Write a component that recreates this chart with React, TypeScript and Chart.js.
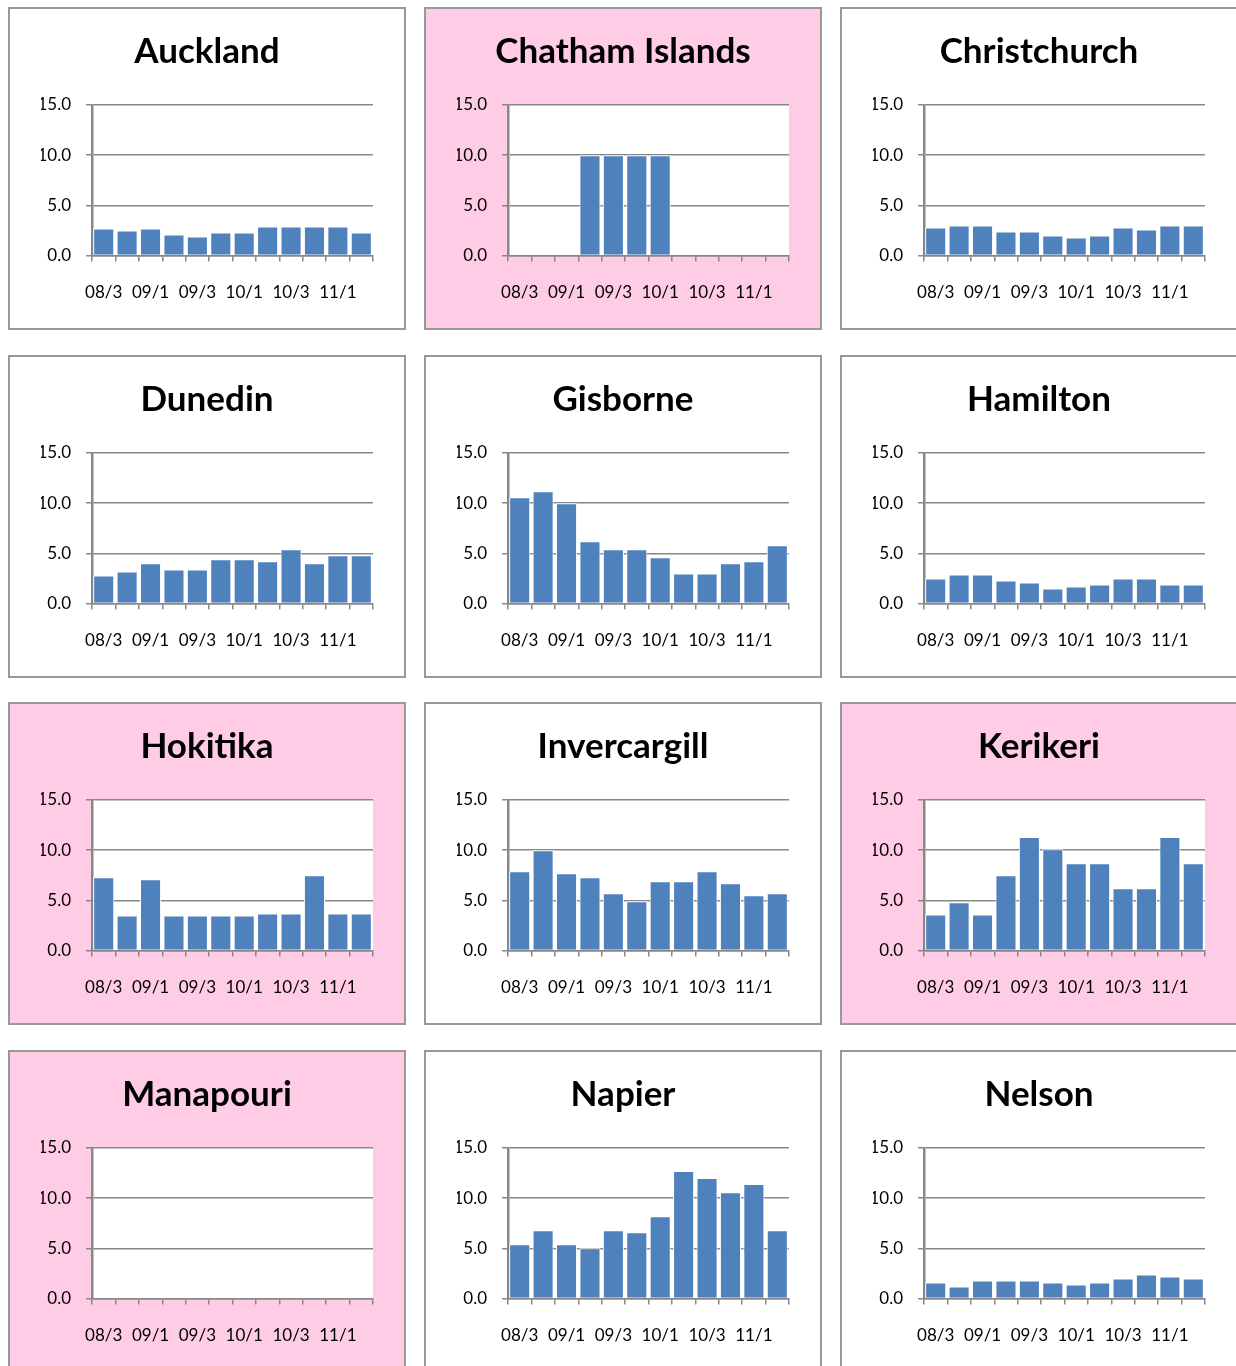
import React, { useEffect, useRef } from "react";
import { Chart, registerables } from "chart.js";

Chart.register(...registerables);

const categories = ["08/3", "08/4", "09/1", "09/2", "09/3", "09/4", "10/1", "10/2", "10/3", "10/4", "11/1", "11/2"];
const yMin = 0;
const yMax = 15;
const yStep = 5;

const auckland = [2.7, 2.5, 2.7, 2.1, 1.9, 2.3, 2.3, 2.9, 2.9, 2.9, 2.9, 2.3];
const chathamIslands = [null, null, null, 10.0, 10.0, 10.0, 10.0, null, null, null, null, null];
const christchurch = [2.8, 3.0, 3.0, 2.4, 2.4, 2.0, 1.8, 2.0, 2.8, 2.6, 3.0, 3.0];
const dunedin = [2.8, 3.2, 4.0, 3.4, 3.4, 4.4, 4.4, 4.2, 5.4, 4.0, 4.8, 4.8];
const gisborne = [10.6, 11.2, 10.0, 6.2, 5.4, 5.4, 4.6, 3.0, 3.0, 4.0, 4.2, 5.8];
const hamilton = [2.5, 2.9, 2.9, 2.3, 2.1, 1.5, 1.7, 1.9, 2.5, 2.5, 1.9, 1.9];
const hokitika = [7.3, 3.5, 7.1, 3.5, 3.5, 3.5, 3.5, 3.7, 3.7, 7.5, 3.7, 3.7];
const invercargill = [7.9, 10.0, 7.7, 7.3, 5.7, 4.9, 6.9, 6.9, 7.9, 6.7, 5.5, 5.7];
const kerikeri = [3.6, 4.8, 3.6, 7.5, 11.3, 10.1, 8.7, 8.7, 6.2, 6.2, 11.3, 8.7];
const manapouri = [null, null, null, null, null, null, null, null, null, null, null, null];
const napier = [5.4, 6.8, 5.4, 5.0, 6.8, 6.6, 8.2, 12.7, 12.0, 10.6, 11.4, 6.8];
const nelson = [1.6, 1.2, 1.8, 1.8, 1.8, 1.6, 1.4, 1.6, 2.0, 2.4, 2.2, 2.0];

const stationNames = ["Auckland", "Chatham Islands", "Christchurch", "Dunedin", "Gisborne", "Hamilton", "Hokitika", "Invercargill", "Kerikeri", "Manapouri", "Napier", "Nelson"];
const stationValues = [auckland, chathamIslands, christchurch, dunedin, gisborne, hamilton, hokitika, invercargill, kerikeri, manapouri, napier, nelson];
const highlighted = [false, true, false, false, false, false, true, false, true, true, false, false];

const COL_LEFT = [8, 424, 840];
const ROW_TOP = [7, 355, 702, 1050];
const PANEL_W = 398;
const PANEL_H = 323;
const BORDER = 2;
const GRID = "#878787";
const BAR = "#4F81BD";
const PINK = "#FFCCE5";
const FONT = "Lato, 'Open Sans', sans-serif";

const whitePlotArea = {
  id: "whitePlotArea",
  beforeDraw(chart: any) {
    const a = chart.chartArea;
    const ctx = chart.ctx;
    ctx.save();
    ctx.fillStyle = "#FFFFFF";
    ctx.fillRect(a.left, a.top, a.right - a.left, a.bottom - a.top);
    ctx.restore();
  },
};

function Panel(props: { title: string; values: (number | null)[]; pink: boolean; left: number; top: number }) {
  const ref = useRef<HTMLCanvasElement>(null);
  useEffect(() => {
    const chart = new Chart(ref.current as HTMLCanvasElement, {
      type: "bar",
      data: {
        labels: categories,
        datasets: [
          {
            data: props.values as any,
            backgroundColor: BAR,
            borderColor: "#FFFFFF",
            borderWidth: 1,
            barPercentage: 0.9,
            categoryPercentage: 1,
          },
        ],
      },
      options: {
        animation: false,
        responsive: false,
        layout: { padding: { left: 31, right: 31, top: 0, bottom: 0 } },
        plugins: {
          legend: { display: false },
          tooltip: { enabled: false },
          title: {
            display: true,
            text: props.title,
            color: "#000000",
            font: { family: FONT, size: 35, weight: "bold" },
            padding: { top: 22, bottom: 32 },
          },
        },
        scales: {
          x: {
            grid: { offset: true, drawOnChartArea: false, color: GRID, lineWidth: 1.5, tickLength: 6 },
            border: { color: GRID, width: 1.5 },
            ticks: {
              autoSkip: false,
              maxRotation: 0,
              minRotation: 0,
              padding: 21,
              color: "#000000",
              font: { family: FONT, size: 17 },
              callback: (_v: any, i: number) => (i % 2 === 0 ? categories[i] : ""),
            },
            afterFit: (s: any) => {
              s.height = 72.5;
            },
          },
          y: {
            min: yMin,
            max: yMax,
            grid: { color: GRID, lineWidth: 1.5, tickLength: 6 },
            border: { color: GRID, width: 2.5 },
            ticks: {
              stepSize: yStep,
              padding: 15,
              color: "#000000",
              font: { family: FONT, size: 17 },
              callback: (v: any) => Number(v).toFixed(1),
            },
            afterFit: (s: any) => {
              s.width = 51;
            },
          },
        },
      } as any,
      plugins: [whitePlotArea],
    });
    return () => chart.destroy();
  }, []);
  return (
    <div
      style={{
        position: "absolute",
        left: props.left,
        top: props.top,
        width: PANEL_W,
        height: PANEL_H,
        boxSizing: "border-box",
        border: `${BORDER}px solid #999999`,
        background: props.pink ? PINK : "#FFFFFF",
      }}
    >
      <canvas ref={ref} width={PANEL_W - 2 * BORDER} height={PANEL_H - 2 * BORDER} style={{ display: "block" }} />
    </div>
  );
}

export default function App() {
  return (
    <div
      style={{
        position: "fixed",
        left: 0,
        top: 0,
        width: 1236,
        height: 1366,
        overflow: "hidden",
        background: "#FFFFFF",
      }}
    >
      {stationNames.map((name, i) => (
        <Panel
          key={name}
          title={name}
          values={stationValues[i]}
          pink={highlighted[i]}
          left={COL_LEFT[i % 3]}
          top={ROW_TOP[Math.floor(i / 3)]}
        />
      ))}
    </div>
  );
}
